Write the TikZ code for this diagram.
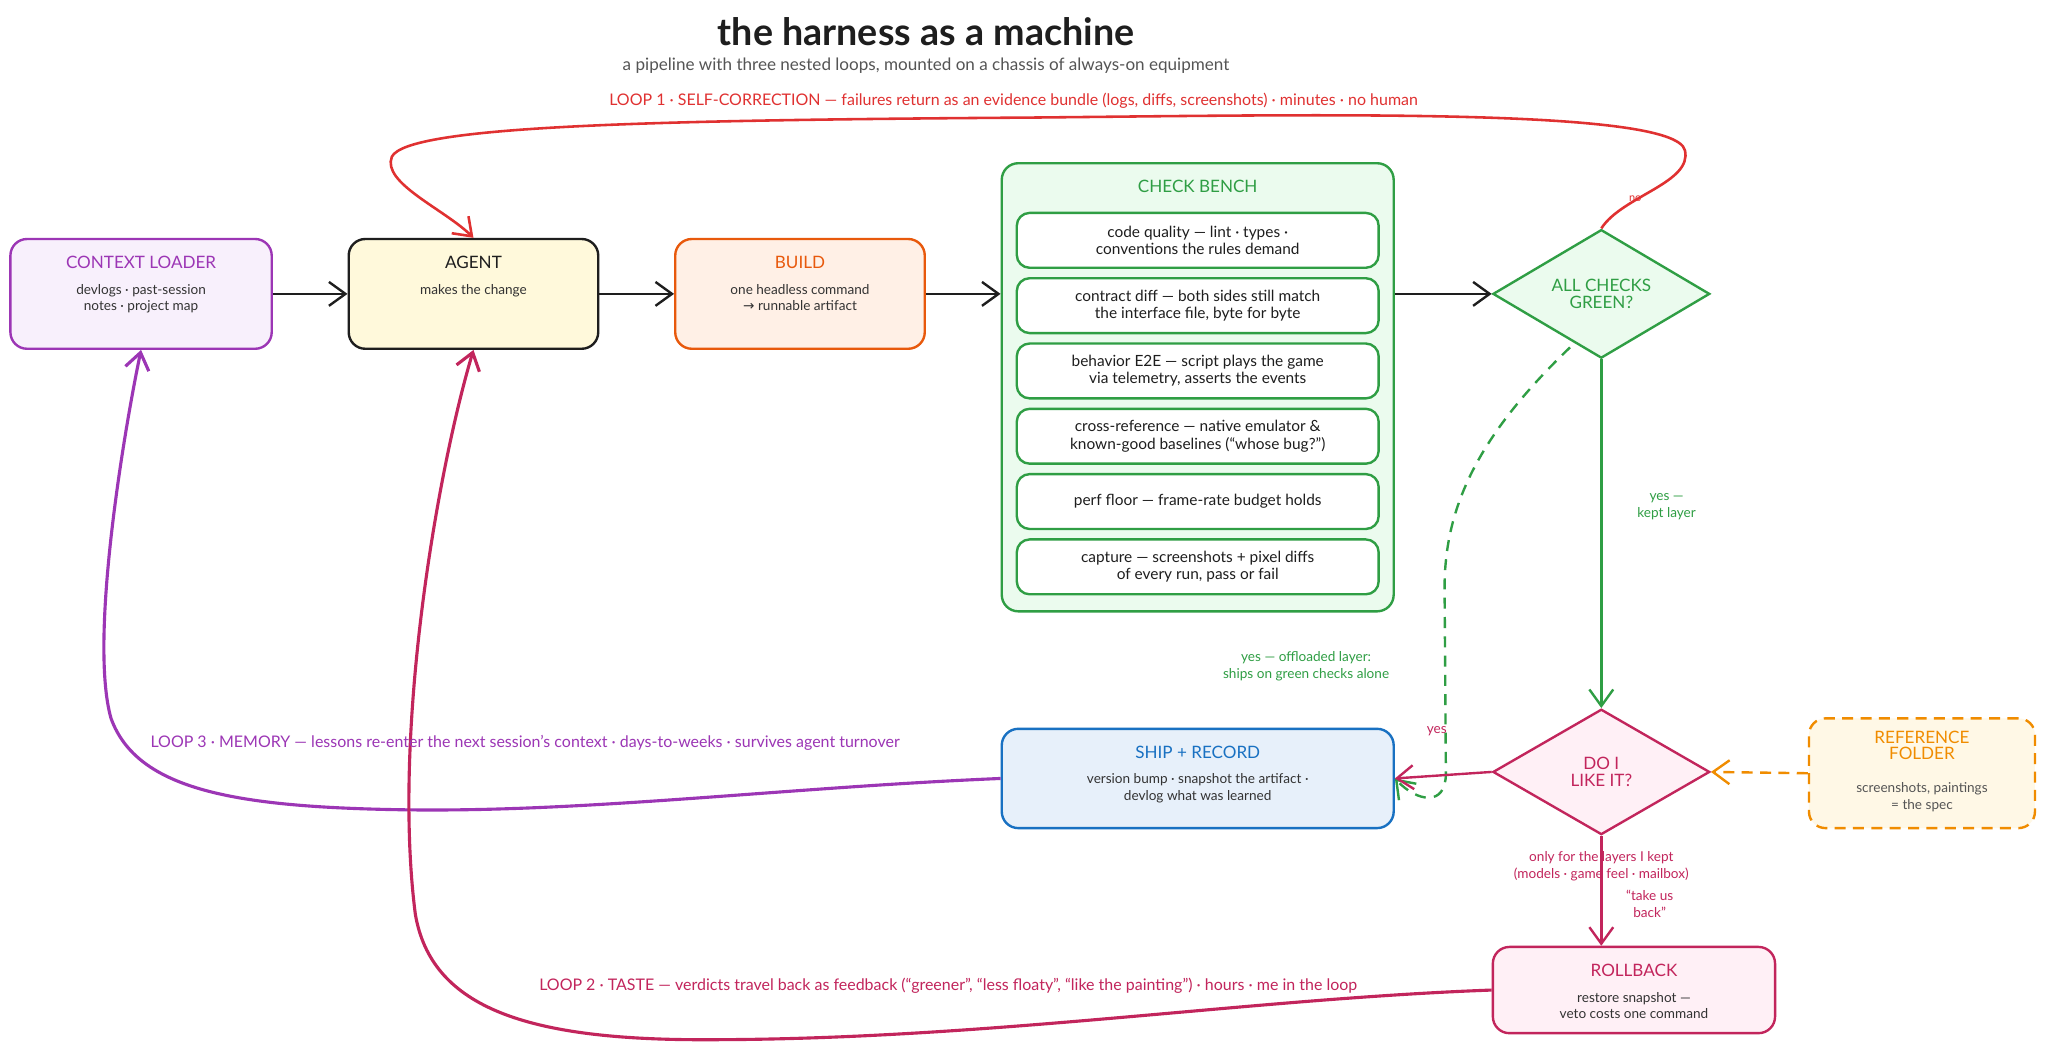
\documentclass[tikz,border=0pt]{standalone}
\usepackage{fontspec}
\setmainfont{Lato}
\newfontfamily\symfont{DejaVu Sans}
\usetikzlibrary{arrows.meta,shapes.geometric}

\definecolor{loadpurple}{HTML}{9C36B5}
\definecolor{loadfill}{HTML}{F8F0FC}
\definecolor{inkblack}{HTML}{1E1E1E}
\definecolor{agentfill}{HTML}{FFF9DB}
\definecolor{buildorange}{HTML}{E8590C}
\definecolor{buildfill}{HTML}{FFF0E6}
\definecolor{benchgreen}{HTML}{2F9E44}
\definecolor{benchfill}{HTML}{EBFBEE}
\definecolor{shipblue}{HTML}{1971C2}
\definecolor{shipfill}{HTML}{E7F0FA}
\definecolor{tastecrimson}{HTML}{C2255C}
\definecolor{tastefill}{HTML}{FFF0F6}
\definecolor{reforange}{HTML}{F08C00}
\definecolor{reffill}{HTML}{FFF8E6}
\definecolor{loopred}{HTML}{E03131}
\definecolor{bodygray}{HTML}{333333}
\definecolor{subgray}{HTML}{555555}

\newcommand{\titlefont}{\fontsize{9.3}{9}\selectfont}
\newcommand{\bodyfont}{\fontsize{7.4}{9}\selectfont}
\newcommand{\itemfont}{\fontsize{8.4}{9.4}\selectfont}
\newcommand{\loopfont}{\fontsize{8.7}{10}\selectfont}
\newcommand{\tipsize}{length=9pt,width=13pt}
\newcommand{\boxtext}[4]{\parbox[c][#2][t]{#1}{\centering\titlefont\rule{0pt}{16pt}#3\\[5pt]\bodyfont\color{bodygray}#4}}

\tikzset{
  box/.style={draw=#1, text=#1, line width=1.3pt, rounded corners=9pt, inner sep=0pt},
  item/.style={draw=benchgreen, fill=white, line width=1.3pt, rounded corners=7pt,
    minimum width=6.925cm, minimum height=1.05cm, align=center, font=\itemfont, text=inkblack},
  decision/.style={diamond, draw=#1, text=#1, line width=1.3pt, inner sep=0pt,
    minimum width=4.15cm, minimum height=2.45cm, align=center, font=\titlefont},
  flow/.style={draw=#1, line width=1.3pt, -{Straight Barb[\tipsize]}},
  loopline/.style={draw=#1, line width=1.7pt, -{Straight Barb[\tipsize]}},
  note/.style={text=#1, align=center, font=\bodyfont},
  looptext/.style={text=#1, font=\loopfont}
}

\begin{document}
\begin{tikzpicture}[x=0.025cm, y=-0.025cm]
\useasboundingbox (0,0) rectangle (1568,805);
\fill[white] (0,0) rectangle (1568,805);

%Title
\node[font=\fontsize{20.5}{22}\selectfont\bfseries, text=inkblack] (title) at (709,24) {the harness as a machine};
\node[font=\fontsize{9.3}{10}\selectfont, text=subgray] (subtitle) at (709,50) {a pipeline with three nested loops, mounted on a chassis of always-on equipment};

%Pipeline
\node[box=loadpurple, fill=loadfill] (ctx) at (108,225) {\boxtext{5cm}{2.1cm}{CONTEXT LOADER}{devlogs · past-session\\notes · project map}};
\node[box=inkblack, fill=agentfill] (agent) at (362.5,225) {\boxtext{4.775cm}{2.1cm}{AGENT}{makes the change}};
\node[box=buildorange, fill=buildfill] (build) at (612.5,225) {\boxtext{4.775cm}{2.1cm}{BUILD}{one headless command\\{\symfont →} runnable artifact}};

%Check bench
\node[box=benchgreen, fill=benchfill] (bench) at (917,296.5) {\parbox[c][8.575cm][t]{7.5cm}{\centering\titlefont\rule{0pt}{16pt}CHECK BENCH}};
\foreach \i/\y/\t in {1/184/{code quality — lint · types ·\\conventions the rules demand},
    2/234/{contract diff — both sides still match\\the interface file, byte for byte},
    3/284/{behavior E2E — script plays the game\\via telemetry, asserts the events},
    4/334/{cross-reference — native emulator \&\\known-good baselines (“whose bug?”)},
    5/384/{perf floor — frame-rate budget holds},
    6/434/{capture — screenshots + pixel diffs\\of every run, pass or fail}} {
        \node[item] (item\i) at (917,\y) {\t};
    }

%Gates
\node[decision=benchgreen, fill=benchfill] (chk) at (1226,225) {ALL CHECKS\\GREEN?};
\node[decision=tastecrimson, fill=tastefill, minimum height=2.4cm] (like) at (1226,591) {DO I\\LIKE IT?};

%Outputs
\node[box=shipblue, fill=shipfill] (ship) at (917,596) {\boxtext{7.5cm}{1.9cm}{SHIP + RECORD}{version bump · snapshot the artifact ·\\devlog what was learned}};
\node[box=reforange, fill=reffill, dashed, dash pattern=on 6pt off 4pt] (ref) at (1471.5,592) {\parbox[c][2.1cm][t]{4.325cm}{\centering\titlefont\rule{0pt}{13.5pt}REFERENCE\\FOLDER\\[9pt]\bodyfont\color{subgray}screenshots, paintings\\= the spec}};
\node[box=tastecrimson, fill=tastefill] (rb) at (1251,758) {\boxtext{5.4cm}{1.65cm}{ROLLBACK}{restore snapshot —\\veto costs one command}};

%Main flow
\draw[flow=inkblack] (ctx.east) -- (agent.west);
\draw[flow=inkblack] (agent.east) -- (build.west);
\draw[flow=inkblack] (build.east) -- (build.east -| bench.west);
\draw[flow=inkblack] (bench.east |- chk.west) -- (chk.west);
\draw[flow=benchgreen] (chk.south) -- (like.north);
\draw[flow=benchgreen, dashed, dash pattern=on 6pt off 4.5pt] (1202,266) .. controls (1130,335) and (1106,390) .. (1106,450)
    -- (1107,592) .. controls (1107,618) and (1085,614) .. (ship.east);
\draw[flow=tastecrimson] (like.west) -- (ship.east);
\draw[flow=reforange, dashed, dash pattern=on 6pt off 4pt] (ref.west) -- (like.east);
\draw[flow=tastecrimson] (like.south) -- (like.south |- rb.north);

%Loop 1
\draw[loopline=loopred, line width=1.4pt] (chk.north) .. controls (1242,150) and (1296,140) .. (1290,115)
    .. controls (1282,82) and (1000,88) .. (790,90)
    .. controls (500,92) and (312,96) .. (300,120)
    .. controls (292,140) and (340,160) .. (agent.north);
%Loop 3
\draw[loopline=loadpurple] (ship.west) .. controls (600,603) and (450,622) .. (310,620)
    .. controls (180,618) and (105,605) .. (85,550)
    .. controls (68,490) and (95,330) .. (ctx.south);
%Loop 2
\draw[loopline=tastecrimson] (rb.west) .. controls (950,765) and (750,797) .. (530,796)
    .. controls (400,795) and (330,770) .. (318,700)
    .. controls (300,560) and (335,360) .. (agent.south);

%Labels
\node[looptext=loopred] (loop1) at (776,77) {LOOP 1 · SELF-CORRECTION — failures return as an evidence bundle (logs, diffs, screenshots) · minutes · no human};
\node[note=loopred, font=\fontsize{6}{7}\selectfont] (nolbl) at (1252,152) {no};
\node[note=benchgreen] (keptlbl) at (1276,388) {yes —\\kept layer};
\node[note=benchgreen] (offlbl) at (1000,510) {yes — offloaded layer:\\ships on green checks alone};
\node[note=tastecrimson] (yeslbl) at (1100,560) {yes};
\node[looptext=loadpurple] (loop3) at (402,569) {LOOP 3 · MEMORY — lessons re-enter the next session’s context · days-to-weeks · survives agent turnover};
\node[note=tastecrimson] (keptonly) at (1226,663) {only for the layers I kept\\(models · game feel · mailbox)};
\node[note=tastecrimson] (backlbl) at (1263,692) {“take us\\back”};
\node[looptext=tastecrimson] (loop2) at (726,755) {LOOP 2 · TASTE — verdicts travel back as feedback (“greener”, “less floaty”, “like the painting”) · hours · me in the loop};
\end{tikzpicture}
\end{document}
